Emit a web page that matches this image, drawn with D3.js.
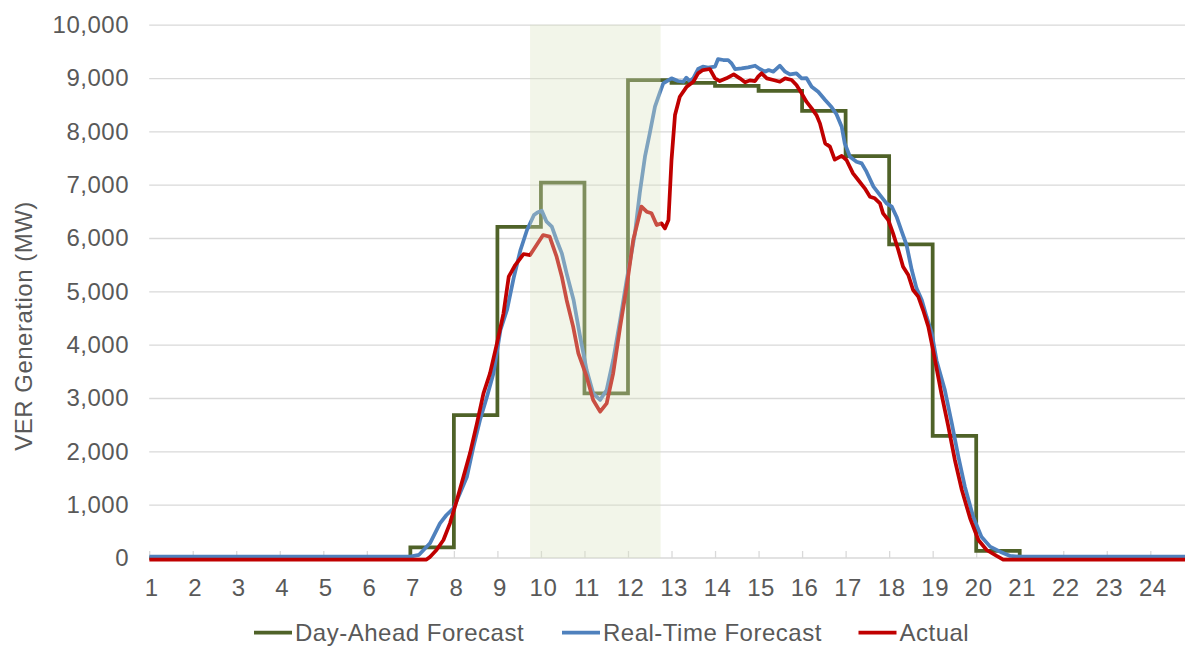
<!DOCTYPE html>
<html>
<head>
<meta charset="utf-8">
<script src="https://cdn.jsdelivr.net/npm/d3@7"></script>
<style>
	body { margin: 0; background: #fff; }
	svg { display: block; font-family: "Liberation Sans", Arial, sans-serif; }
	.lbl { fill: #595959; font-size: 24px; letter-spacing: 0.5px; }
</style>
</head>
<body>
<svg width="1185" height="646"></svg>
<script>
// hour ticks on the category axis
var hourTicks = d3.range(1, 25);
var yTicks = [0, 1000, 2000, 3000, 4000, 5000, 6000, 7000, 8000, 9000, 10000];

// day-ahead forecast, hourly blocks (value holds from hour h to h+1)
var daHours = [1, 2, 3, 4, 5, 6, 7, 8, 9, 10, 11, 12, 13, 14, 15, 16, 17, 18, 19, 20, 21, 22, 23, 24, 25];
var daValues = [0, 0, 0, 0, 0, 0, 200, 2680, 6210, 7040, 3085, 8960, 8910, 8855, 8760, 8385, 7535, 5880, 2290, 135, 0, 0, 0, 0, 0];

// real-time forecast
var rtHours = [1, 7.0, 7.2, 7.45, 7.68, 7.83, 7.99, 8.14, 8.3, 8.45, 8.6, 8.76, 8.91, 9.07, 9.22, 9.38, 9.53, 9.68, 9.84, 9.92,
	10.02, 10.13, 10.25, 10.36, 10.48, 10.59, 10.75, 10.9, 11.05, 11.2, 11.36, 11.51, 11.66, 11.82, 11.97,
	12.16, 12.27, 12.39, 12.5, 12.62, 12.73, 12.81, 13.0, 13.15, 13.27, 13.34, 13.42, 13.5, 13.61, 13.72, 13.84,
	14.0, 14.07, 14.19, 14.3, 14.38, 14.46, 14.61, 14.76, 14.92, 15.03, 15.15, 15.23, 15.34, 15.49, 15.61, 15.72, 15.87, 15.99,
	16.1, 16.22, 16.37, 16.53, 16.68, 16.79, 16.91, 16.98, 17.1, 17.25, 17.37, 17.48, 17.64, 17.79, 17.94,
	18.06, 18.17, 18.29, 18.4, 18.52, 18.63, 18.75, 18.86, 18.98, 19.09, 19.28, 19.44, 19.59, 19.74, 19.93,
	20.12, 20.32, 20.55, 20.78, 21.0, 25];
var rtValues = [25, 25, 60, 275, 650, 806, 931, 1213, 1525, 2088, 2588, 3025, 3463, 4275, 4650, 5275, 5775, 6150, 6431, 6480,
	6513, 6306, 6213, 5963, 5713, 5338, 4838, 4150, 3525, 3088, 2963, 3150, 3713, 4463, 5213,
	6088, 6838, 7525, 7963, 8463, 8720, 8900, 8994, 8944, 8930, 9006, 8944, 8994, 9169, 9213, 9194,
	9213, 9356, 9338, 9338, 9275, 9169, 9181, 9200, 9231, 9169, 9119, 9150, 9119, 9231, 9119, 9069, 9088, 8994,
	9000, 8838, 8744, 8588, 8450, 8320, 8088, 7775, 7525, 7431, 7400, 7244, 6963, 6806, 6650,
	6588, 6400, 6119, 5869, 5400, 5056, 4838, 4525, 4213, 3700, 3150, 2525, 1900, 1338, 775,
	400, 213, 119, 38, 25, 25];

// actual generation
var actHours = [1, 7.37, 7.45, 7.6, 7.76, 7.91, 8.07, 8.22, 8.37, 8.53, 8.68, 8.83, 8.99, 9.14, 9.26, 9.41, 9.6, 9.75, 9.9,
	10.05, 10.2, 10.36, 10.48, 10.59, 10.74, 10.86, 11.05, 11.2, 11.36, 11.51, 11.66, 11.82, 11.97,
	12.12, 12.31, 12.43, 12.54, 12.66, 12.77, 12.85, 12.93, 13.0, 13.08, 13.19, 13.35, 13.5, 13.61, 13.72, 13.88,
	14.0, 14.11, 14.26, 14.43, 14.57, 14.69, 14.8, 14.92, 14.99, 15.07, 15.19, 15.34, 15.49, 15.61, 15.76, 15.87, 15.99,
	16.1, 16.22, 16.33, 16.41, 16.53, 16.64, 16.75, 16.91, 17.02, 17.17, 17.29, 17.44, 17.56, 17.67, 17.79, 17.86, 17.98,
	18.09, 18.21, 18.32, 18.44, 18.55, 18.67, 18.78, 18.9, 19.01, 19.2, 19.36, 19.51, 19.67, 19.86,
	20.05, 20.24, 20.47, 20.62, 25];
var actValues = [-30, -30, 20, 150, 338, 650, 1088, 1525, 1963, 2525, 3088, 3463, 4025, 4588, 5275, 5494, 5700, 5681, 5869,
	6056, 6025, 5650, 5275, 4838, 4338, 3838, 3400, 2963, 2744, 2900, 3463, 4338, 5088,
	5963, 6588, 6494, 6463, 6244, 6275, 6181, 6338, 7463, 8306, 8650, 8838, 8931, 9088, 9150, 9169,
	8994, 8944, 8994, 9069, 8994, 8919, 8956, 8944, 9025, 9088, 8994, 8963, 8931, 8994, 8963, 8869, 8713,
	8556, 8431, 8306, 8150, 7775, 7713, 7470, 7540, 7463, 7213, 7088, 6931, 6775, 6744, 6650, 6463, 6338,
	6088, 5775, 5463, 5306, 5025, 4900, 4650, 4338, 3900, 3088, 2463, 1838, 1275, 744,
	338, 150, 38, -30, -30];

// highlighted window (hours)
var shadeStart = 9.75;
var shadeEnd = 12.75;

var seriesNames = ["Day-Ahead Forecast", "Real-Time Forecast", "Actual"];
var seriesColors = ["#4F6228", "#4F81BD", "#C00000"];

var svg = d3.select("svg"),
	width = +svg.attr("width"),
	height = +svg.attr("height"),
	plotLeft = 149.2,
	plotRight = 1185;

var x = d3.scaleLinear().domain([1, 24]).range([plotLeft, 1150.3]);
var y = d3.scaleLinear().domain([0, 10000]).range([558, 24.7]);

svg.append("defs").append("clipPath")
	.attr("id", "plotclip")
	.append("rect")
	.attr("x", plotLeft)
	.attr("y", 0)
	.attr("width", plotRight - plotLeft)
	.attr("height", 570);

// gridlines
svg.append("g")
	.attr("class", "grid")
	.attr("transform", "translate(" + plotLeft + ",0)")
	.call(d3.axisLeft(y).tickValues(yTicks.slice(1)).tickSize(-(plotRight - plotLeft)).tickFormat(""))
	.call(g => g.select(".domain").remove())
	.call(g => g.selectAll("line").attr("stroke", "#d9d9d9").attr("stroke-width", 1.3));

// y labels
svg.append("g")
	.selectAll("text")
	.data(yTicks)
	.enter().append("text")
	.attr("class", "lbl")
	.attr("x", 129)
	.attr("y", function(d) { return y(d); })
	.attr("dy", "0.35em")
	.attr("text-anchor", "end")
	.text(d3.format(","));

// x axis line + inside ticks
var xAxis = svg.append("g")
	.attr("transform", "translate(0," + y(0) + ")")
	.call(d3.axisBottom(x).tickValues(hourTicks).tickSize(-7).tickFormat(""));
xAxis.select(".domain").remove();
xAxis.selectAll("line").attr("stroke", "#d9d9d9").attr("stroke-width", 1.3);
xAxis.append("line")
	.attr("x1", plotLeft).attr("x2", plotRight)
	.attr("stroke", "#d9d9d9").attr("stroke-width", 1.5);

svg.append("g")
	.selectAll("text")
	.data(hourTicks)
	.enter().append("text")
	.attr("class", "lbl")
	.attr("x", function(d) { return x(d) + 2.5; })
	.attr("y", 595.5)
	.attr("text-anchor", "middle")
	.text(function(d) { return d; });

// series
var plot = svg.append("g").attr("clip-path", "url(#plotclip)");

var daLine = d3.line()
	.x(function(d) { return x(d[0]); })
	.y(function(d) { return y(d[1]); })
	.curve(d3.curveStepAfter);

var line = d3.line()
	.x(function(d) { return x(d[0]); })
	.y(function(d) { return y(d[1]); });

plot.append("path")
	.datum(d3.zip(daHours, daValues))
	.attr("fill", "none")
	.attr("stroke", seriesColors[0])
	.attr("stroke-width", 3.75)
	.attr("d", daLine);

plot.append("path")
	.datum(d3.zip(rtHours, rtValues))
	.attr("fill", "none")
	.attr("stroke", seriesColors[1])
	.attr("stroke-width", 3.75)
	.attr("stroke-linejoin", "round")
	.attr("d", line);

plot.append("path")
	.datum(d3.zip(actHours, actValues))
	.attr("fill", "none")
	.attr("stroke", seriesColors[2])
	.attr("stroke-width", 3.75)
	.attr("stroke-linejoin", "round")
	.attr("d", line);

// shaded window drawn over the lines
plot.append("rect")
	.attr("x", x(shadeStart))
	.attr("y", y(10000))
	.attr("width", x(shadeEnd) - x(shadeStart))
	.attr("height", y(0) - y(10000))
	.attr("fill", "rgb(218,226,192)")
	.attr("fill-opacity", 0.35);

// y title
svg.append("text")
	.attr("class", "lbl")
	.attr("transform", "translate(31.5,326) rotate(-90)")
	.attr("text-anchor", "middle")
	.text("VER Generation (MW)");

// legend
var legendX = [254, 562, 858.5];
var legend = svg.append("g").attr("transform", "translate(0,632.7)");
seriesNames.forEach(function(name, i) {
	legend.append("line")
		.attr("x1", legendX[i]).attr("x2", legendX[i] + 38)
		.attr("stroke", seriesColors[i])
		.attr("stroke-width", 3.75);
	legend.append("text")
		.attr("class", "lbl")
		.attr("x", legendX[i] + 41)
		.attr("dy", "0.35em")
		.text(name);
});
</script>
</body>
</html>
